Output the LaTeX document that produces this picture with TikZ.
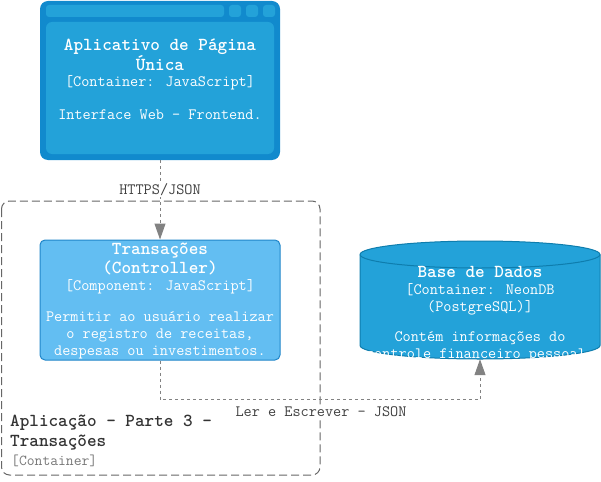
\documentclass[tikz,border=0pt]{standalone}
\usetikzlibrary{arrows.meta}
\definecolor{frameblue}{HTML}{118ACD}
\definecolor{contblue}{HTML}{23A2D9}
\definecolor{compfill}{HTML}{63BEF2}
\definecolor{compline}{HTML}{2086C9}
\definecolor{dbline}{HTML}{0E7DAD}
\definecolor{relgray}{HTML}{828282}
\definecolor{lblgray}{HTML}{404040}
\definecolor{bndgray}{HTML}{666666}
\definecolor{bndtext}{HTML}{333333}
\definecolor{bndtech}{HTML}{777777}
\tikzset{
  titletxt/.style={text=white, font=\fontsize{18.3}{19}\ttfamily\bfseries, align=center, inner sep=0pt},
  techtxt/.style={text=white, font=\fontsize{15.8}{17}\ttfamily, align=center, inner sep=0pt},
  boundary/.style={draw=bndgray, line width=1pt, dash pattern=on 8pt off 4pt, rounded corners=8pt},
  rel/.style={draw=relgray, line width=1pt, dash pattern=on 3pt off 3pt, -{Triangle[length=16pt,width=11pt]}},
  rellbl/.style={text=lblgray, font=\fontsize{15.8}{17}\ttfamily, inner sep=1pt, fill=white},
  framebox/.style={fill=frameblue, draw=none, rounded corners=8pt, minimum width=240pt, minimum height=159pt, inner sep=0pt},
  panel/.style={fill=contblue, draw=none},
  compbox/.style={fill=compfill, draw=compline, line width=1pt, rounded corners=5pt, minimum width=240pt, minimum height=120pt, inner sep=0pt},
  dbshape/.style={fill=contblue, draw=dbline, line width=1pt},
  ghost/.style={draw=none, fill=none, minimum width=240pt, minimum height=118pt, inner sep=0pt}
}
\begin{document}
\begin{tikzpicture}[x=1pt,y=-1pt]
\useasboundingbox (0,0) rectangle (601,481);

% boundary
\draw[boundary] (1.5,201) rectangle (320,475);
\node[anchor=west, text=bndtext, font=\fontsize{18.3}{20}\ttfamily\bfseries, align=left, inner sep=0pt] (bndtitle) at (10,433) {Aplicação - Parte 3 -\\Transações};
\node[anchor=west, text=bndtech, font=\fontsize{15.2}{16}\ttfamily, inner sep=0pt] (bndtech) at (11,461) {[Container]};

% web browser container
\node[framebox] (spa) at (160,80.5) {};
\fill[panel, rounded corners=3pt] (46,5) rectangle (224,17);
\fill[panel, rounded corners=3pt] (229,5) rectangle (241,17);
\fill[panel, rounded corners=3pt] (246,5) rectangle (258,17);
\fill[panel, rounded corners=3pt] (263,5) rectangle (275,17);
\fill[panel, rounded corners=6pt] (46,22) rectangle (274,154);
\node[titletxt] (spatitle) at (160,54.5) {Aplicativo de Página\\Única};
\node[techtxt] (spatech) at (160,83) {[Container: JavaScript]};
\node[techtxt] (spadesc) at (160,115) {Interface Web - Frontend.};

% component
\node[compbox] (ctrl) at (160,300) {};
\node[titletxt] (ctrltitle) at (160,258.5) {Transações\\(Controller)};
\node[techtxt] (ctrltech) at (160,287) {[Component: JavaScript]};
\node[techtxt] (ctrldesc) at (160,335) {Permitir ao usuário realizar\\o registro de receitas,\\despesas ou investimentos.};

% database
\node[ghost] (db) at (480,300) {};
\path[dbshape] (360,254.5) -- (360,345.5)
  arc[start angle=180, end angle=0, x radius=120, y radius=13.5]
  -- (600,254.5)
  arc[start angle=0, end angle=-180, x radius=120, y radius=13.5] -- cycle;
\draw[draw=dbline, line width=1pt] (360,254.5) arc[start angle=180, end angle=0, x radius=120, y radius=13.5];
\node[titletxt] (dbtitle) at (480,272) {Base de Dados};
\node[techtxt] (dbtech) at (480,299.5) {[Container: NeonDB\\(PostgreSQL)]};
\node[techtxt] (dbdesc) at (480,346.5) {Contém informações do\\controle financeiro pessoal.};

% relations
\draw[rel] (spa.south) -- (ctrl.north) node[rellbl, pos=0.375] (l1) {HTTPS/JSON};
\draw[rel] (ctrl.south) -- ++(0,39) -| (db.south);
\node[rellbl] (l2) at (321,412) {Ler e Escrever - JSON};
\end{tikzpicture}
\end{document}
